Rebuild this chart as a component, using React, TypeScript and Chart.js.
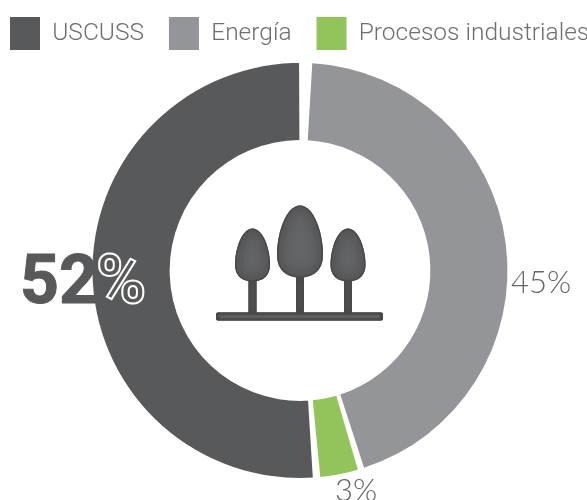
import React, { useEffect, useRef } from "react";
import { Chart, registerables } from "chart.js";

Chart.register(...registerables);

const categories = ["USCUSS", "Energía", "Procesos industriales"];
const values = [52, 45, 3];
const colors = ["#58595b", "#939598", "#93c45c"];
const LEGEND_FONT = "Roboto";
const LABEL_FONT = "Lato";
const BIG_FONT = "Roboto";

function egg(ctx: CanvasRenderingContext2D, cx: number, top: number, w: number, h: number) {
  const bottom = top + h;
  const widest = top + h * 0.68;
  ctx.beginPath();
  ctx.moveTo(cx, top);
  ctx.bezierCurveTo(cx + w * 0.3, top, cx + w * 0.5, widest - h * 0.3, cx + w * 0.5, widest);
  ctx.bezierCurveTo(cx + w * 0.5, bottom - h * 0.08, cx + w * 0.25, bottom, cx, bottom);
  ctx.bezierCurveTo(cx - w * 0.25, bottom, cx - w * 0.5, bottom - h * 0.08, cx - w * 0.5, widest);
  ctx.bezierCurveTo(cx - w * 0.5, widest - h * 0.3, cx - w * 0.3, top, cx, top);
  ctx.closePath();
}

function shadedPath(ctx: CanvasRenderingContext2D, build: () => void, blur: number) {
  ctx.save();
  build();
  ctx.fillStyle = "#636466";
  ctx.fill();
  ctx.clip();
  build();
  ctx.shadowColor = "#2a2a2c";
  ctx.shadowBlur = blur;
  ctx.strokeStyle = "#4a4a4c";
  ctx.lineWidth = 3;
  ctx.stroke();
  ctx.restore();
}

const roundRect = (ctx: CanvasRenderingContext2D, x: number, y: number, w: number, h: number, r: number) => {
  ctx.beginPath();
  ctx.roundRect(x, y, w, h, r);
};

const decorations = {
  id: "decorations",
  beforeLayout(chart: any) {
    const legend = chart.legend;
    if (legend) {
      const baseFit = legend.constructor.prototype.fit;
      legend.fit = function () {
        this.maxWidth = 2000;
        baseFit.call(this);
        this.height = 63;
      };
    }
  },
  afterLayout(chart: any) {
    if (chart.legend) {
      chart.legend.top = -8;
      chart.legend.left = -15;
      chart.legend.right = 2000;
    }
  },
  afterDraw(chart: any) {
    const { ctx } = chart;
    const arc = chart.getDatasetMeta(0).data[0];
    const cx = arc.x;
    const cy = arc.y;

    const trees = [
      { dx: -47.5, top: -42, w: 35, h: 53, trunkTop: 8 },
      { dx: 0, top: -65, w: 46, h: 72, trunkTop: 5 },
      { dx: 48, top: -42, w: 35, h: 53, trunkTop: 8 },
    ];
    trees.forEach((t) => {
      shadedPath(ctx, () => roundRect(ctx, cx + t.dx - 4, cy + t.trunkTop, 8, 38, 0), 6);
    });
    shadedPath(ctx, () => roundRect(ctx, cx - 84, cy + 42, 167, 8, 2), 3);
    trees.forEach((t) => {
      shadedPath(ctx, () => egg(ctx, cx + t.dx, cy + t.top, t.w, t.h), 12);
    });

    ctx.save();
    ctx.textBaseline = "alphabetic";
    ctx.textAlign = "left";
    ctx.fillStyle = "#636466";
    ctx.font = `300 31px ${LABEL_FONT}`;
    ctx.fillText(`${values[1]}%`, cx + 211, cy + 22);
    ctx.fillText(`${values[2]}%`, cx + 35, cy + 230);

    ctx.fillStyle = colors[0];
    ctx.strokeStyle = colors[0];
    ctx.font = `700 68px ${BIG_FONT}`;
    const big = String(values[0]);
    const bx = cx - 280;
    const by = cy + 32;
    ctx.lineWidth = 1;
    ctx.fillText(big, bx, by);
    ctx.strokeText(big, bx, by);
    const w = ctx.measureText(big).width;
    ctx.fillText("%", bx + w - 2, by);
    ctx.strokeStyle = "#ffffff";
    ctx.lineWidth = 2;
    ctx.lineJoin = "miter";
    ctx.strokeText("%", bx + w - 2, by);
    ctx.restore();
  },
};

export default function App() {
  const ref = useRef<HTMLCanvasElement>(null);
  useEffect(() => {
    const chart = new Chart(ref.current!, {
      type: "doughnut",
      data: {
        labels: categories,
        datasets: [{ data: values, backgroundColor: colors, borderWidth: 0, spacing: 7 }],
      },
      options: {
        animation: false,
        responsive: false,
        rotation: 174.5,
        cutout: "62.2%",
        layout: { padding: { top: 0, bottom: 22, left: 13, right: 0 } },
        plugins: {
          tooltip: { enabled: false },
          legend: {
            position: "top",
            align: "start",
            labels: {
              boxWidth: 30,
              boxHeight: 33,
              padding: 25,
              color: "#6d6e71",
              font: { family: LEGEND_FONT, size: 24.5, weight: "300" },
            },
          },
        },
      },
      plugins: [decorations],
    } as any);
    return () => chart.destroy();
  }, []);
  return (
    <div style={{ position: "fixed", left: 0, top: 0, width: 587, height: 500, background: "#fff" }}>
      <canvas ref={ref} width={587} height={500} style={{ display: "block" }} />
    </div>
  );
}
